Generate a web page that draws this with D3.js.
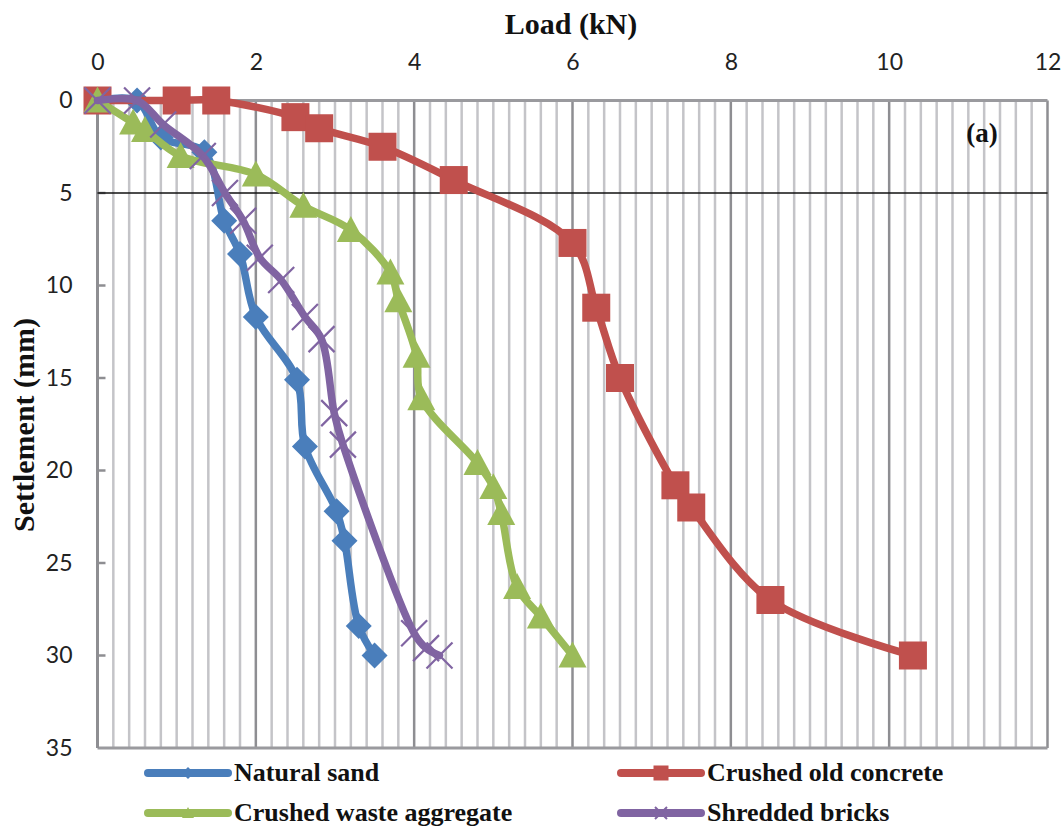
<!DOCTYPE html>
<html>
<head>
<meta charset="utf-8">
<script src="https://cdn.jsdelivr.net/npm/d3@7"></script>
<style>
    html, body { margin: 0; padding: 0; background: #fff; }
    svg { display: block; }
    .tick-label { font-family: Lato, "Open Sans", sans-serif; font-size: 23px; fill: #222; }
    .title { font-family: "Liberation Serif", "Times New Roman", serif; font-weight: bold; fill: #111; }
</style>
</head>
<body>
<div id="chart"></div>
<script>
// Load-settlement curves, panel (a)

const loadTicks = [0, 2, 4, 6, 8, 10, 12];
const settlementTicks = [0, 5, 10, 15, 20, 25, 30, 35];

const sandLoad = [0, 0.5, 0.8, 1.35, 1.6, 1.8, 2.0, 2.52, 2.62, 3.02, 3.12, 3.3, 3.5];
const sandSettle = [0, 0, 2.0, 2.8, 6.5, 8.3, 11.7, 15.1, 18.7, 22.2, 23.8, 28.4, 30.0];

const concreteLoad = [0, 1.0, 1.5, 2.5, 2.8, 3.6, 4.5, 6.0, 6.3, 6.6, 7.3, 7.5, 8.5, 10.3];
const concreteSettle = [0, 0, 0, 0.9, 1.5, 2.5, 4.3, 7.7, 11.2, 15.0, 20.8, 22.0, 27.0, 30.0];

const aggregateLoad = [0, 0.45, 0.6, 1.05, 2.0, 2.6, 3.2, 3.7, 3.8, 4.03, 4.09, 4.8, 5.0, 5.1, 5.3, 5.6, 6.0];
const aggregateSettle = [0, 1.2, 1.6, 3.0, 4.0, 5.7, 7.0, 9.3, 10.8, 13.8, 16.1, 19.6, 20.9, 22.3, 26.3, 27.9, 30.0];

const bricksLoad = [0, 0.5, 0.83, 1.33, 1.61, 1.84, 2.05, 2.32, 2.62, 2.83, 2.99, 3.1, 4.0, 4.15, 4.32];
const bricksSettle = [0, 0, 1.3, 3.0, 5.0, 6.5, 8.5, 9.7, 11.7, 12.9, 16.9, 18.6, 28.8, 29.6, 30.0];

const referenceSettlement = 5;

const series = [
    { name: "Natural sand", load: sandLoad, settle: sandSettle, color: "#4a7ebb", marker: "diamond" },
    { name: "Crushed old concrete", load: concreteLoad, settle: concreteSettle, color: "#c0504d", marker: "square" },
    { name: "Crushed waste aggregate", load: aggregateLoad, settle: aggregateSettle, color: "#9bbb59", marker: "triangle" },
    { name: "Shredded bricks", load: bricksLoad, settle: bricksSettle, color: "#8064a2", marker: "cross" }
];

const W = 1064, H = 830;
const plot = { left: 97.5, right: 1047.5, top: 100.5, bottom: 748 };

const svg = d3.select("#chart").append("svg")
    .attr("width", W)
    .attr("height", H);

const x = d3.scaleLinear().domain([0, 12]).range([plot.left, plot.right]);
const y = d3.scaleLinear().domain([0, 35]).range([plot.top, plot.bottom]);

// vertical gridlines, minor every 0.2 kN
const grid = d3.range(0, 61).map(i => ({ v: i * 0.2, major: i % 10 === 0 }));
svg.append("g")
    .selectAll("line")
    .data(grid)
    .join("line")
    .attr("x1", d => x(d.v))
    .attr("x2", d => x(d.v))
    .attr("y1", y(0))
    .attr("y2", y(35))
    .attr("stroke", d => d.major ? "#8e8e92" : "#c4c4c8")
    .attr("stroke-width", 2.5);

// axis frame lines
svg.append("line")
    .attr("x1", x(0)).attr("x2", x(12))
    .attr("y1", y(0)).attr("y2", y(0))
    .attr("stroke", "#9a9a9e").attr("stroke-width", 3);
svg.append("line")
    .attr("x1", x(0)).attr("x2", x(12))
    .attr("y1", y(35)).attr("y2", y(35))
    .attr("stroke", "#9a9a9e").attr("stroke-width", 3);
svg.append("line")
    .attr("x1", x(0)).attr("x2", x(0))
    .attr("y1", y(0)).attr("y2", y(35))
    .attr("stroke", "#8e8e92").attr("stroke-width", 3);

// inner ticks on settlement axis
svg.append("g")
    .selectAll("line")
    .data(settlementTicks.slice(1, -1))
    .join("line")
    .attr("x1", x(0)).attr("x2", x(0) + 8)
    .attr("y1", d => y(d)).attr("y2", d => y(d))
    .attr("stroke", "#8e8e92").attr("stroke-width", 2.5);

// top axis (load)
const xAxis = svg.append("g")
    .attr("transform", `translate(0,${plot.top})`)
    .call(d3.axisTop(x).tickValues(loadTicks).tickSize(0).tickPadding(31).tickFormat(d3.format("d")));
xAxis.select(".domain").remove();
xAxis.selectAll("text").attr("class", "tick-label").attr("font-size", null).attr("font-family", null);

// left axis (settlement)
const yAxis = svg.append("g")
    .attr("transform", `translate(${plot.left},0)`)
    .call(d3.axisLeft(y).tickValues(settlementTicks).tickSize(0).tickPadding(25).tickFormat(d3.format("d")));
yAxis.select(".domain").remove();
yAxis.selectAll("text").attr("class", "tick-label").attr("font-size", null).attr("font-family", null);

// 5 mm reference line
svg.append("line")
    .attr("x1", x(0)).attr("x2", x(12))
    .attr("y1", y(referenceSettlement)).attr("y2", y(referenceSettlement))
    .attr("stroke", "#111").attr("stroke-width", 1.6);

// axis titles
svg.append("text")
    .attr("class", "title")
    .attr("x", 571).attr("y", 34)
    .attr("text-anchor", "middle")
    .attr("font-size", 30)
    .text("Load (kN)");

svg.append("text")
    .attr("class", "title")
    .attr("transform", "translate(34,425) rotate(-90)")
    .attr("text-anchor", "middle")
    .attr("font-size", 30)
    .text("Settlement (mm)");

svg.append("text")
    .attr("class", "title")
    .attr("x", 982).attr("y", 142)
    .attr("text-anchor", "middle")
    .attr("font-size", 27)
    .text("(a)");

const line = d3.line()
    .x(d => x(d[0]))
    .y(d => y(d[1]))
    .curve(d3.curveCatmullRom.alpha(0.5));

function drawMarker(g, type, color, size) {
    const h = size / 2;
    if (type === "square") {
        g.append("rect")
            .attr("x", -h).attr("y", -h)
            .attr("width", size).attr("height", size)
            .attr("fill", color);
    } else if (type === "diamond") {
        g.append("path")
            .attr("d", `M0,${-h}L${h},0L0,${h}L${-h},0Z`)
            .attr("fill", color);
    } else if (type === "triangle") {
        g.append("path")
            .attr("d", `M0,${-h}L${h},${h * 0.85}L${-h},${h * 0.85}Z`)
            .attr("fill", color);
    } else {
        g.append("path")
            .attr("d", `M${-h},${-h}L${h},${h}M${h},${-h}L${-h},${h}`)
            .attr("stroke", color)
            .attr("stroke-width", size > 16 ? 2.2 : 2);
    }
}

const markerSize = { square: 28, diamond: 26, triangle: 28, cross: 26 };

series.forEach(s => {
    const pts = s.load.map((v, i) => [v, s.settle[i]]);
    const g = svg.append("g");
    g.append("path")
        .datum(pts)
        .attr("fill", "none")
        .attr("stroke", s.color)
        .attr("stroke-width", 7.5)
        .attr("stroke-linejoin", "round")
        .attr("stroke-linecap", "round")
        .attr("d", line);
    pts.forEach(p => {
        const m = g.append("g").attr("transform", `translate(${x(p[0])},${y(p[1])})`);
        drawMarker(m, s.marker, s.color, markerSize[s.marker]);
    });
});

// legend, two columns
const legendCols = [148, 621];
const legendRows = [773, 813];
series.forEach((s, i) => {
    const lx = legendCols[i % 2];
    const ly = legendRows[Math.floor(i / 2)];
    const g = svg.append("g").attr("transform", `translate(${lx},${ly})`);
    g.append("line")
        .attr("x1", 0).attr("x2", 80)
        .attr("stroke", s.color)
        .attr("stroke-width", 8)
        .attr("stroke-linecap", "round");
    drawMarker(g.append("g").attr("transform", "translate(40,0)"), s.marker, s.color, s.marker === "square" ? 15 : 12);
    g.append("text")
        .attr("class", "title")
        .attr("x", 86).attr("y", 8)
        .attr("font-size", 26)
        .text(s.name);
});
</script>
</body>
</html>
